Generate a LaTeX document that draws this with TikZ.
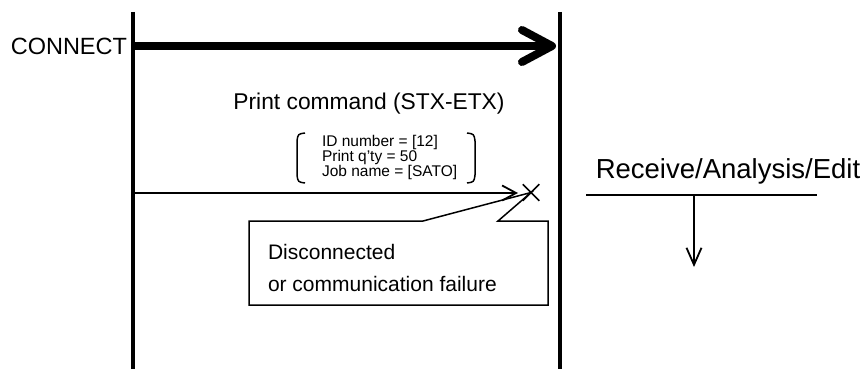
\documentclass[tikz,border=0pt]{standalone}
\usepackage{fontspec}
\setmainfont{Liberation Sans}
\usetikzlibrary{arrows.meta,shapes.misc}
\begin{document}
\begin{tikzpicture}[x=1pt,y=-1pt,
  lifeline/.style={line width=3.2pt},
  lbl/.style={inner sep=0pt,outer sep=0pt},
  thin/.style={line width=1.8pt},
  small/.style={lbl,anchor=base west,font=\fontsize{15.5}{15}\selectfont},
]
\useasboundingbox (0,0) rectangle (865,369);
% lifelines
\coordinate (Ltop) at (133,12); \coordinate (Lbot) at (133,369);
\coordinate (Rtop) at (560,12); \coordinate (Rbot) at (560,369);
\draw[lifeline] (Ltop) -- (Lbot);
\draw[lifeline] (Rtop) -- (Rbot);
% CONNECT
\node[lbl,anchor=base east,font=\fontsize{23.5}{28}\selectfont] (conn) at (127,54.5) {CONNECT};
\coordinate (c1) at (133,46); \coordinate (c2) at (556,46);
\draw[line width=8pt,-{Straight Barb[length=30pt,width=32pt,round]}] (c1) -- (c2);
% print command
\node[lbl,font=\fontsize{22.8}{27}\selectfont] (pc) at (369,104) {Print command (STX-ETX)};
% parameter block
\node[small] (p1) at (322,146.5) {ID number = [12]};
\node[small] (p2) at (322,161.5) {Print q'ty = 50};
\node[small] (p3) at (322,176.5) {Job name = [SATO]};
\draw[line width=1.5pt] (305,133) .. controls (298,134) .. (297,141) -- (297,175) .. controls (298,182) .. (305,183);
\draw[line width=1.5pt] (467,133) .. controls (474,134) .. (475,141) -- (475,175) .. controls (474,182) .. (467,183);
% data arrow
\coordinate (d1) at (133,193); \coordinate (d2) at (518,193);
\draw[thin,-{Straight Barb[length=14pt,width=15pt]}] (d1) -- (d2);
% failure mark
\node[cross out,draw,line width=1.5pt,minimum size=15pt,inner sep=0pt] (xm) at (531,192.5) {};
% callout
\node[lbl,minimum width=299pt,minimum height=84pt] (cb) at (398.5,263) {};
\draw[line width=1.5pt] (cb.north west) -- (423,221) -- (xm.center) -- (498,221) -- (cb.north east) -- (cb.south east) -- (cb.south west) -- cycle;
\node[lbl,anchor=base west,font=\fontsize{21}{25}\selectfont] (t1) at (268,259) {Disconnected};
\node[lbl,anchor=base west,font=\fontsize{21}{25}\selectfont] (t2) at (268,291) {or communication failure};
% receive
\node[lbl,font=\fontsize{27.5}{32}\selectfont] (rc) at (728,171) {Receive/Analysis/Edit};
\coordinate (r1) at (586,195); \coordinate (r2) at (817,195);
\draw[thin] (r1) -- (r2);
\coordinate (a1) at (694,195); \coordinate (a2) at (694,267);
\draw[thin,-{Straight Barb[length=17pt,width=15pt]}] (a1) -- (a2);
\end{tikzpicture}
\end{document}
